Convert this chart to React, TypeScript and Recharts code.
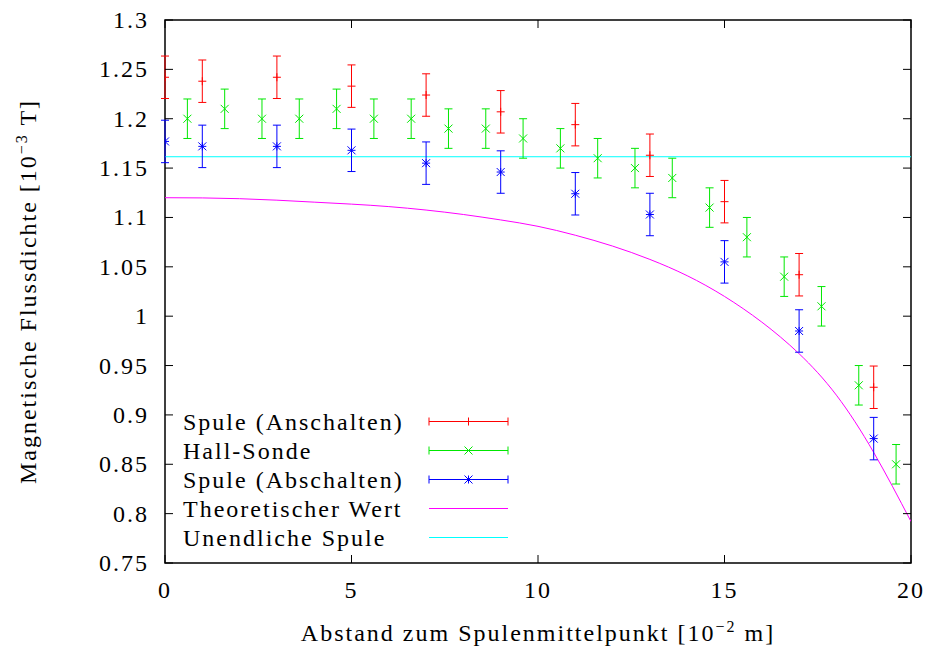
import { ComposedChart, Scatter, Line, XAxis, YAxis, ErrorBar, ReferenceArea } from 'recharts'

// layout of the gnuplot frame (page coords)
const W = 930
const H = 651
const PLOT = { left: 165, top: 20, right: 911, bottom: 563 }
const TICK = 8
const FONT = 'Liberation Serif'
const FS = 24
const LS = 2

// axes
const xTicks = [0, 5, 10, 15, 20]
const yTicks = [0.75, 0.8, 0.85, 0.9, 0.95, 1, 1.05, 1.1, 1.15, 1.2, 1.25, 1.3]
const yTickLabels = ['0.75', '0.8', '0.85', '0.9', '0.95', '1', '1.05', '1.1', '1.15', '1.2', '1.25', '1.3']

// Spule (An-/Abschalten) measured at the same positions
const spuleX = [0, 1, 3, 5, 7, 9, 11, 13, 15, 17, 19]
const anschaltenY = [1.242, 1.238, 1.242, 1.233, 1.224, 1.207, 1.194, 1.163, 1.116, 1.042, 0.928]
const abschaltenY = [1.177, 1.172, 1.172, 1.168, 1.155, 1.146, 1.124, 1.103, 1.055, 0.985, 0.876]
const spuleErr = 0.0215

// Hall-Sonde
const hallX = [0.6, 1.6, 2.6, 3.6, 4.6, 5.6, 6.6, 7.6, 8.6, 9.6, 10.6, 11.6, 12.6, 13.6, 14.6, 15.6, 16.6, 17.6, 18.6, 19.6]
const hallY = [1.2, 1.21, 1.2, 1.2, 1.21, 1.2, 1.2, 1.19, 1.19, 1.18, 1.17, 1.16, 1.15, 1.14, 1.11, 1.08, 1.04, 1.01, 0.93, 0.85]
const hallErr = 0.02

// theoretical curve
const theorieX = [0, 1, 2, 3, 4, 5, 6, 7, 8, 9, 10, 11, 12, 13, 14, 15, 16, 17, 18, 19, 20]
const theorieY = [1.12, 1.1198, 1.119, 1.1175, 1.1155, 1.1135, 1.111, 1.1075, 1.103, 1.0975, 1.091, 1.082, 1.071, 1.0575, 1.041, 1.02, 0.994, 0.962, 0.92, 0.862, 0.792]

// infinite solenoid
const unendlichX = [0, 20]
const unendlichY = 1.1615

const anschaltenData = spuleX.map((x, i) => ({ x, y: anschaltenY[i], err: spuleErr }))
const abschaltenData = spuleX.map((x, i) => ({ x, y: abschaltenY[i], err: spuleErr }))
const hallData = hallX.map((x, i) => ({ x, y: hallY[i], err: hallErr }))
const theorieData = theorieX.map((x, i) => ({ x, y: theorieY[i] }))
const unendlichData = unendlichX.map((x) => ({ x, y: unendlichY }))

const RED = '#ff0000'
const GREEN = '#00e800'
const BLUE = '#0000ff'
const MAGENTA = '#ff00ff'
const CYAN = '#00ffff'

const S = 4 // marker half size

const plus = (cx: number, cy: number, c: string) => (
    <g stroke={c} strokeWidth={1}>
        <line x1={cx - S} x2={cx + S} y1={cy} y2={cy} />
        <line x1={cx} x2={cx} y1={cy - S} y2={cy + S} />
    </g>
)
const cross = (cx: number, cy: number, c: string) => (
    <g stroke={c} strokeWidth={1}>
        <line x1={cx - S} x2={cx + S} y1={cy - S} y2={cy + S} />
        <line x1={cx - S} x2={cx + S} y1={cy + S} y2={cy - S} />
    </g>
)
const star = (cx: number, cy: number, c: string) => (
    <g>
        {plus(cx, cy, c)}
        {cross(cx, cy, c)}
    </g>
)

const txt = { fontFamily: FONT, fontSize: FS, letterSpacing: LS, fill: '#000' }

const XTick = (props: any) => {
    const { x, payload } = props
    return (
        <g>
            <line x1={x} x2={x} y1={PLOT.bottom} y2={PLOT.bottom - TICK} stroke="#000" />
            <line x1={x} x2={x} y1={PLOT.top} y2={PLOT.top + TICK} stroke="#000" />
            <text x={x} y={PLOT.bottom + 35} textAnchor="middle" style={txt}>
                {payload.value}
            </text>
        </g>
    )
}

const YTick = (props: any) => {
    const { y, payload } = props
    const label = yTickLabels[yTicks.indexOf(payload.value)]
    return (
        <g>
            <line x1={PLOT.left} x2={PLOT.left + TICK} y1={y} y2={y} stroke="#000" />
            <line x1={PLOT.right} x2={PLOT.right - TICK} y1={y} y2={y} stroke="#000" />
            <text x={PLOT.left - 16} y={y + 8} textAnchor="end" style={txt}>
                {label}
            </text>
        </g>
    )
}

const XLabel = () => (
    <text x={(PLOT.left + PLOT.right) / 2} y={641} textAnchor="middle" style={txt}>
        Abstand zum Spulenmittelpunkt [10<tspan fontSize={16} dy={-9}>−2</tspan>
        <tspan dy={9}> m]</tspan>
    </text>
)

const YLabel = () => (
    <text
        x={0}
        y={0}
        transform={`translate(36, ${(PLOT.top + PLOT.bottom) / 2}) rotate(-90)`}
        textAnchor="middle"
        style={txt}
    >
        Magnetische Flussdichte [10<tspan fontSize={16} dy={-9}>−3</tspan>
        <tspan dy={9}> T]</tspan>
    </text>
)

const legendRows = [
    { name: 'Spule (Anschalten)', color: RED, marker: plus, bar: true },
    { name: 'Hall-Sonde', color: GREEN, marker: cross, bar: true },
    { name: 'Spule (Abschalten)', color: BLUE, marker: star, bar: true },
    { name: 'Theoretischer Wert', color: MAGENTA, marker: null, bar: false },
    { name: 'Unendliche Spule', color: CYAN, marker: null, bar: false },
]

const KeyBox = () => (
    <svg width={W} height={H} style={{ position: 'absolute', left: 0, top: 0, pointerEvents: 'none' }}>
        {legendRows.map((r, i) => {
            const base = 429.5 + i * 29
            const ly = base - 8
            return (
                <g key={r.name}>
                    <text x={183} y={base} style={txt}>
                        {r.name}
                    </text>
                    <line x1={429} x2={508} y1={ly} y2={ly} stroke={r.color} />
                    {r.bar ? (
                        <g stroke={r.color}>
                            <line x1={429} x2={429} y1={ly - 4} y2={ly + 4} />
                            <line x1={508} x2={508} y1={ly - 4} y2={ly + 4} />
                        </g>
                    ) : null}
                    {r.marker ? r.marker(468.5, ly, r.color) : null}
                </g>
            )
        })}
    </svg>
)

export default function App() {
    return (
        <div style={{ position: 'absolute', left: 0, top: 0, width: W, height: H, background: '#fff' }}>
            <ComposedChart
                width={W}
                height={H}
                margin={{ top: PLOT.top, right: W - PLOT.right, left: 0, bottom: 0 }}
            >
                <XAxis
                    type="number"
                    dataKey="x"
                    domain={[0, 20]}
                    ticks={xTicks}
                    allowDataOverflow
                    height={H - PLOT.bottom}
                    axisLine={false}
                    tickLine={false}
                    tick={<XTick />}
                    label={<XLabel />}
                />
                <YAxis
                    type="number"
                    dataKey="y"
                    domain={[0.75, 1.3]}
                    ticks={yTicks}
                    allowDataOverflow
                    width={PLOT.left}
                    axisLine={false}
                    tickLine={false}
                    tick={<YTick />}
                    label={<YLabel />}
                />
                <Line data={unendlichData} dataKey="y" type="linear" stroke={CYAN} strokeWidth={1} dot={false} isAnimationActive={false} />
                <Line data={theorieData} dataKey="y" type="natural" stroke={MAGENTA} strokeWidth={1} dot={false} isAnimationActive={false} />
                <Scatter data={anschaltenData} dataKey="y" isAnimationActive={false} shape={(p: any) => plus(p.cx, p.cy, RED)}>
                    <ErrorBar dataKey="err" direction="y" width={4} stroke={RED} strokeWidth={1} isAnimationActive={false} />
                </Scatter>
                <Scatter data={hallData} dataKey="y" isAnimationActive={false} shape={(p: any) => cross(p.cx, p.cy, GREEN)}>
                    <ErrorBar dataKey="err" direction="y" width={4} stroke={GREEN} strokeWidth={1} isAnimationActive={false} />
                </Scatter>
                <Scatter data={abschaltenData} dataKey="y" isAnimationActive={false} shape={(p: any) => star(p.cx, p.cy, BLUE)}>
                    <ErrorBar dataKey="err" direction="y" width={4} stroke={BLUE} strokeWidth={1} isAnimationActive={false} />
                </Scatter>
                <ReferenceArea x1={0} x2={20} y1={0.75} y2={1.3} fill="none" stroke="#000" strokeWidth={1.5} ifOverflow="visible" />
            </ComposedChart>
            <KeyBox />
        </div>
    )
}
